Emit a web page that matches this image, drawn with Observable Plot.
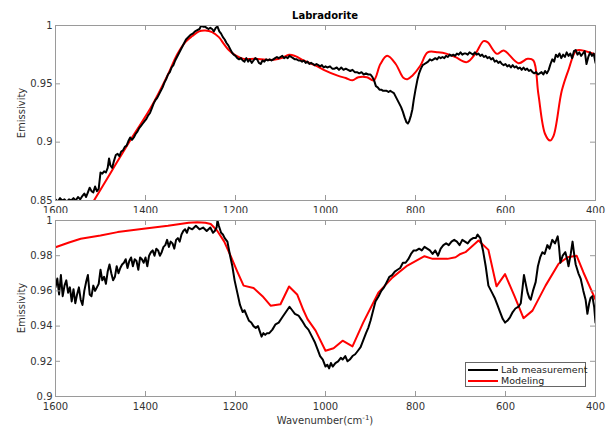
<!DOCTYPE html>
<html><head><meta charset="utf-8">
<script src="https://cdn.jsdelivr.net/npm/d3@7"></script>
<script src="https://cdn.jsdelivr.net/npm/@observablehq/plot@0.6"></script>
<style>
body{margin:0;background:#fff;font-family:"DejaVu Sans",sans-serif;}
#wrap{position:relative;width:606px;height:426px;overflow:hidden;}
.abs{position:absolute;white-space:nowrap;}
.ylab{font-size:10px;color:#333;transform:translate(-50%,-50%) rotate(-90deg);}
</style></head><body><div id="wrap"></div>
<script>
const title = "Labradorite";
const yLabel = "Emissivity";
const xLabel = "Wavenumber(cm";
const legendLabels = ["Lab measurement", "Modeling"];
const xTicks = [1600, 1400, 1200, 1000, 800, 600, 400];
const yTicksTop = [0.85, 0.9, 0.95, 1];
const yTicksBottom = [0.9, 0.92, 0.94, 0.96, 0.98, 1];

// Top panel: lab measurement [wavenumber, emissivity]
const labTop = [[1600,0.851],[1595,0.849],[1590,0.852],[1585,0.850],[1580,0.851],[1575,0.849],[1570,0.851],[1565,0.850],[1560,0.852],[1555,0.850],[1550,0.853],[1545,0.851],[1540,0.854],[1536,0.856],[1532,0.853],[1528,0.857],[1524,0.861],[1520,0.858],[1516,0.857],[1512,0.862],[1508,0.858],[1504,0.860],[1500,0.874],[1496,0.873],[1492,0.875],[1488,0.874],[1484,0.878],[1481,0.886],[1478,0.880],[1474,0.878],[1470,0.884],[1466,0.889],[1462,0.890],[1458,0.888],[1454,0.892],[1450,0.893],[1446,0.896],[1442,0.897],[1438,0.901],[1434,0.904],[1430,0.902],[1426,0.904],[1422,0.907],[1418,0.909],[1414,0.912],[1410,0.914],[1406,0.916],[1402,0.918],[1398,0.920],[1394,0.923],[1390,0.925],[1386,0.929],[1382,0.933],[1378,0.936],[1374,0.938],[1370,0.941],[1366,0.944],[1362,0.947],[1358,0.951],[1354,0.954],[1350,0.958],[1346,0.960],[1342,0.964],[1338,0.966],[1334,0.970],[1330,0.973],[1326,0.976],[1322,0.979],[1318,0.982],[1314,0.985],[1310,0.988],[1305,0.990],[1300,0.992],[1295,0.993],[1290,0.995],[1285,0.996],[1280,0.997],[1276,1.000],[1272,0.999],[1268,0.999],[1264,0.998],[1260,0.997],[1256,0.998],[1252,0.997],[1248,0.995],[1244,0.998],[1240,0.999],[1236,0.995],[1232,0.993],[1228,0.990],[1224,0.988],[1220,0.985],[1216,0.983],[1212,0.980],[1208,0.977],[1204,0.975],[1200,0.974],[1196,0.972],[1192,0.971],[1188,0.972],[1184,0.970],[1180,0.969],[1176,0.972],[1172,0.969],[1168,0.971],[1164,0.968],[1160,0.970],[1156,0.972],[1152,0.971],[1148,0.968],[1144,0.967],[1140,0.970],[1136,0.969],[1132,0.971],[1128,0.970],[1124,0.971],[1120,0.970],[1116,0.971],[1112,0.972],[1108,0.973],[1104,0.972],[1100,0.973],[1096,0.974],[1092,0.972],[1088,0.973],[1084,0.972],[1080,0.974],[1076,0.973],[1072,0.972],[1068,0.971],[1064,0.971],[1060,0.970],[1056,0.970],[1052,0.969],[1048,0.970],[1044,0.968],[1040,0.969],[1036,0.967],[1032,0.968],[1028,0.967],[1024,0.966],[1020,0.967],[1016,0.966],[1012,0.965],[1008,0.966],[1004,0.964],[1000,0.965],[996,0.964],[990,0.965],[985,0.963],[980,0.963],[975,0.964],[970,0.962],[965,0.964],[960,0.962],[955,0.963],[950,0.962],[945,0.961],[940,0.962],[935,0.960],[930,0.960],[925,0.959],[920,0.960],[915,0.958],[910,0.959],[905,0.958],[900,0.958],[896,0.956],[892,0.953],[888,0.948],[884,0.947],[880,0.945],[876,0.945],[872,0.944],[868,0.944],[864,0.944],[860,0.943],[856,0.944],[852,0.943],[848,0.942],[844,0.939],[840,0.936],[836,0.933],[832,0.930],[828,0.926],[824,0.921],[820,0.917],[817,0.916],[814,0.918],[810,0.923],[807,0.928],[804,0.936],[800,0.945],[796,0.953],[792,0.959],[788,0.963],[784,0.966],[780,0.967],[776,0.968],[772,0.969],[768,0.971],[764,0.970],[760,0.971],[756,0.972],[752,0.971],[748,0.973],[744,0.972],[740,0.973],[736,0.972],[732,0.974],[728,0.973],[724,0.975],[720,0.974],[716,0.975],[712,0.974],[708,0.976],[704,0.975],[700,0.977],[696,0.975],[692,0.976],[688,0.976],[684,0.975],[680,0.977],[676,0.976],[672,0.975],[668,0.977],[664,0.975],[660,0.976],[656,0.974],[652,0.975],[648,0.973],[644,0.974],[640,0.972],[636,0.973],[632,0.971],[628,0.972],[624,0.969],[620,0.970],[616,0.968],[612,0.969],[608,0.967],[604,0.966],[600,0.967],[596,0.965],[592,0.966],[588,0.964],[584,0.966],[580,0.964],[576,0.965],[572,0.963],[568,0.964],[564,0.962],[560,0.964],[556,0.962],[552,0.963],[548,0.961],[544,0.962],[540,0.960],[536,0.959],[532,0.960],[528,0.958],[524,0.959],[520,0.960],[516,0.958],[512,0.961],[508,0.959],[504,0.962],[500,0.967],[496,0.971],[492,0.969],[488,0.975],[484,0.973],[480,0.976],[476,0.972],[472,0.975],[468,0.973],[464,0.977],[460,0.974],[456,0.976],[452,0.972],[448,0.978],[444,0.979],[440,0.975],[436,0.977],[432,0.974],[428,0.976],[424,0.978],[420,0.967],[416,0.973],[412,0.977],[408,0.974],[404,0.976],[400,0.968]];

// Top panel: model
const modelTop = [[1516,0.849],[1474,0.876],[1430,0.904],[1389,0.929],[1350,0.958],[1330,0.975],[1311,0.986],[1296,0.991],[1281,0.995],[1267,0.9957],[1252,0.9943],[1237,0.990],[1226,0.9843],[1215,0.979],[1200,0.9743],[1182,0.9714],[1156,0.9714],[1133,0.9706],[1115,0.9706],[1096,0.9723],[1081,0.9749],[1067,0.9737],[1049,0.970],[1022,0.9657],[1004,0.962],[973,0.957],[955,0.955],[940,0.953],[927,0.9557],[908,0.9557],[893,0.953],[878,0.967],[863,0.974],[844,0.967],[827,0.9552],[818,0.954],[807,0.957],[789,0.9657],[773,0.977],[750,0.977],[730,0.9757],[711,0.9729],[686,0.9686],[667,0.9757],[649,0.9866],[640,0.9857],[619,0.9757],[604,0.9786],[571,0.9677],[551,0.9714],[538,0.970],[527,0.9414],[512,0.907],[501,0.9014],[493,0.9057],[475,0.944],[460,0.962],[442,0.9786],[422,0.978],[404,0.9757],[400,0.975]];

// Bottom panel: lab measurement
const labBottom = [[1600,0.962],[1596,0.967],[1592,0.958],[1588,0.969],[1584,0.957],[1580,0.963],[1576,0.966],[1572,0.959],[1568,0.962],[1564,0.954],[1560,0.961],[1556,0.953],[1552,0.958],[1548,0.962],[1544,0.955],[1540,0.952],[1536,0.960],[1532,0.965],[1528,0.969],[1524,0.958],[1520,0.957],[1516,0.963],[1512,0.960],[1508,0.962],[1504,0.964],[1500,0.972],[1496,0.966],[1492,0.968],[1488,0.964],[1484,0.971],[1480,0.975],[1476,0.970],[1472,0.966],[1468,0.968],[1464,0.974],[1460,0.970],[1456,0.973],[1452,0.975],[1448,0.976],[1444,0.978],[1440,0.973],[1436,0.977],[1432,0.979],[1428,0.974],[1424,0.978],[1420,0.977],[1416,0.972],[1412,0.979],[1408,0.978],[1404,0.976],[1400,0.979],[1396,0.974],[1392,0.980],[1388,0.982],[1384,0.983],[1380,0.980],[1376,0.984],[1372,0.983],[1368,0.980],[1364,0.982],[1360,0.985],[1356,0.986],[1352,0.989],[1348,0.985],[1344,0.988],[1340,0.987],[1336,0.984],[1332,0.989],[1328,0.990],[1324,0.988],[1320,0.992],[1316,0.994],[1312,0.995],[1308,0.993],[1304,0.996],[1296,0.995],[1288,0.997],[1280,0.995],[1272,0.996],[1264,0.994],[1256,0.996],[1250,0.993],[1246,0.994],[1242,0.996],[1240,1.000],[1237,0.997],[1232,0.993],[1228,0.992],[1224,0.990],[1218,0.988],[1212,0.980],[1207,0.974],[1202,0.966],[1196,0.959],[1190,0.952],[1184,0.948],[1180,0.949],[1175,0.946],[1170,0.943],[1165,0.942],[1160,0.940],[1155,0.939],[1150,0.940],[1146,0.937],[1142,0.934],[1138,0.936],[1134,0.935],[1130,0.936],[1125,0.936],[1118,0.938],[1111,0.941],[1104,0.942],[1096,0.945],[1088,0.948],[1080,0.951],[1074,0.949],[1068,0.947],[1060,0.946],[1052,0.943],[1045,0.940],[1038,0.938],[1030,0.934],[1024,0.931],[1018,0.927],[1012,0.923],[1006,0.921],[1000,0.917],[996,0.918],[992,0.916],[988,0.919],[984,0.917],[978,0.919],[972,0.920],[966,0.922],[962,0.921],[956,0.923],[951,0.920],[946,0.921],[940,0.923],[934,0.924],[928,0.926],[922,0.928],[916,0.932],[910,0.936],[905,0.939],[900,0.943],[895,0.948],[889,0.954],[882,0.957],[876,0.960],[870,0.962],[864,0.965],[858,0.968],[852,0.969],[846,0.971],[840,0.972],[834,0.973],[828,0.976],[822,0.976],[816,0.978],[810,0.981],[804,0.983],[798,0.983],[792,0.984],[786,0.983],[780,0.985],[774,0.984],[768,0.983],[762,0.981],[756,0.983],[750,0.980],[744,0.984],[738,0.986],[732,0.987],[726,0.986],[720,0.988],[714,0.989],[708,0.988],[702,0.986],[696,0.989],[690,0.988],[684,0.987],[678,0.989],[672,0.990],[666,0.990],[662,0.992],[656,0.990],[650,0.983],[644,0.974],[638,0.963],[634,0.961],[630,0.959],[624,0.956],[618,0.952],[612,0.948],[606,0.944],[601,0.942],[596,0.943],[590,0.945],[584,0.948],[578,0.950],[571,0.951],[566,0.953],[562,0.962],[559,0.969],[555,0.964],[551,0.959],[547,0.956],[544,0.955],[539,0.960],[533,0.965],[528,0.974],[523,0.979],[518,0.982],[513,0.981],[507,0.986],[502,0.984],[496,0.989],[490,0.987],[484,0.991],[481,0.985],[478,0.976],[473,0.980],[467,0.982],[463,0.978],[460,0.974],[455,0.981],[451,0.988],[447,0.980],[444,0.975],[438,0.970],[433,0.967],[427,0.960],[422,0.955],[418,0.947],[414,0.953],[411,0.956],[407,0.957],[403,0.951],[400,0.942]];

// Bottom panel: model
const modelBottom = [[1600,0.9848],[1570,0.9875],[1544,0.9896],[1500,0.9915],[1462,0.9934],[1400,0.9955],[1350,0.9970],[1304,0.9987],[1285,0.999],[1267,0.9987],[1255,0.998],[1241,0.9943],[1225,0.988],[1211,0.980],[1196,0.971],[1182,0.963],[1160,0.9617],[1140,0.957],[1122,0.9516],[1100,0.9524],[1081,0.9625],[1063,0.958],[1049,0.949],[1040,0.944],[1022,0.9374],[1000,0.926],[982,0.9274],[962,0.9317],[940,0.9285],[916,0.9421],[882,0.9592],[851,0.9677],[818,0.9744],[780,0.9797],[762,0.9782],[729,0.9782],[711,0.9791],[700,0.981],[689,0.982],[660,0.9886],[638,0.9833],[620,0.9626],[601,0.9695],[580,0.957],[560,0.9445],[540,0.9488],[511,0.963],[482,0.9754],[462,0.9791],[442,0.980],[427,0.9706],[404,0.9573],[400,0.955]];

const W = 606, ML = 55, MR = 11, FW = W - ML - MR, TICK = 5;
const AX = "#9a9a9a";
const style = {fontFamily: "DejaVu Sans", fontSize: "10px", color: "#333", background: "white", overflow: "visible"};
const fmtY = d3.format("~g");

function panel(opts) {
  const FH = opts.height - opts.mt - opts.mb;
  return Plot.plot({
    width: W, height: opts.height,
    marginTop: opts.mt, marginBottom: opts.mb, marginLeft: ML, marginRight: MR,
    style,
    x: {domain: [1600, 400], ticks: xTicks, tickSize: 0, tickPadding: 6, tickFormat: d3.format("d"), label: null},
    y: {domain: opts.yDomain, ticks: opts.yTicks, tickSize: 0, tickPadding: 3, tickFormat: fmtY, label: null},
    marks: [
      Plot.line(opts.model, {x: d => d[0], y: d => d[1], stroke: "#ff0000", strokeWidth: 2, curve: opts.curve, clip: true}),
      Plot.line(opts.lab, {x: d => d[0], y: d => d[1], stroke: "#000", strokeWidth: 2, clip: true}),
      Plot.ruleX(xTicks, {stroke: AX, insetBottom: FH - TICK}),
      Plot.ruleX(xTicks, {stroke: AX, insetTop: FH - TICK}),
      Plot.ruleY(opts.yTicks, {stroke: AX, insetRight: FW - TICK}),
      Plot.ruleY(opts.yTicks, {stroke: AX, insetLeft: FW - TICK}),
      Plot.frame({stroke: AX})
    ]
  });
}

const wrap = document.getElementById("wrap");
const p1 = panel({height: 213, mt: 25, mb: 13, yDomain: [0.85, 1], yTicks: yTicksTop, lab: labTop, model: modelTop, curve: "catmull-rom"});
const p2 = panel({height: 213, mt: 7, mb: 30, yDomain: [0.9, 1], yTicks: yTicksBottom, lab: labBottom, model: modelBottom, curve: "linear"});
p1.style.position = "absolute"; p1.style.left = "0px"; p1.style.top = "0px";
p2.style.position = "absolute"; p2.style.left = "0px"; p2.style.top = "213px";
wrap.appendChild(p1);
wrap.appendChild(p2);

function addDiv(html, css, cls) {
  const d = document.createElement("div");
  d.className = "abs" + (cls ? " " + cls : "");
  d.innerHTML = html;
  Object.assign(d.style, css);
  wrap.appendChild(d);
  return d;
}
addDiv(title, {left: ML + "px", width: FW + "px", top: "10px", textAlign: "center", fontSize: "10px", fontWeight: "bold", color: "#000", lineHeight: "12px"});
addDiv(yLabel, {left: "21px", top: "112.5px"}, "ylab");
addDiv(yLabel, {left: "21px", top: "308px"}, "ylab");
addDiv(xLabel + '<sup style="font-size:7px">-1</sup>)', {left: ML + "px", width: FW + "px", top: "411px", textAlign: "center", fontSize: "10px", color: "#333", lineHeight: "14px"});

// legend
const lg = addDiv("", {left: "465px", top: "362px", width: "119px", height: "23px", border: "1px solid #666", background: "#fff"});
const colors = ["#000", "#ff0000"];
legendLabels.forEach((t, i) => {
  const row = document.createElement("div");
  Object.assign(row.style, {position: "absolute", left: "2px", top: (1 + i * 11) + "px", height: "11px", display: "flex", alignItems: "center", fontSize: "9.5px", color: "#222", whiteSpace: "nowrap"});
  const sw = document.createElement("span");
  Object.assign(sw.style, {display: "inline-block", width: "30px", height: "0", borderTop: "2px solid " + colors[i], marginRight: "3px"});
  const tx = document.createElement("span");
  tx.textContent = t;
  row.appendChild(sw); row.appendChild(tx);
  lg.appendChild(row);
});
</script></body></html>
